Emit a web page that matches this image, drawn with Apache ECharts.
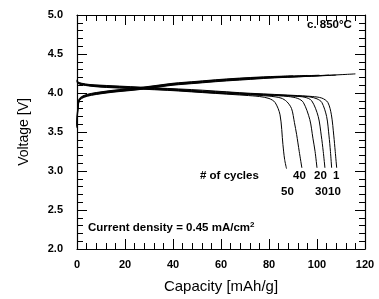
<!DOCTYPE html>
<html>
<head>
<meta charset="utf-8">
<script src="https://cdn.jsdelivr.net/npm/echarts@6/dist/echarts.min.js"></script>
<style>
html,body{margin:0;padding:0;background:#fff;}
#main{width:379px;height:299px;}
</style>
</head>
<body>
<div id="main"></div>
<script>
// charge / discharge curves, [capacity mAh/g, voltage V]
var cycles = ['1', '10', '20', '30', '40', '50'];

var dis1 = [[0,4.17],[0.5,4.14],[2,4.125],[5,4.11],[10,4.1],[20,4.085],[30,4.07],[40,4.055],[50,4.04],[60,4.02],[70,4.0],[80,3.985],[90,3.97],[98,3.955],[102,3.935],[104.5,3.88],[106,3.72],[107,3.45],[107.6,3.25],[108.2,3.04]];
var dis10 = [[0,4.16],[0.5,4.135],[2,4.12],[5,4.105],[10,4.095],[20,4.08],[30,4.065],[40,4.05],[50,4.03],[60,4.015],[70,3.995],[80,3.98],[90,3.965],[97,3.95],[100,3.925],[102,3.88],[104,3.7],[105,3.45],[105.6,3.25],[106.1,3.04]];
var dis20 = [[0,4.16],[0.5,4.13],[2,4.115],[5,4.1],[10,4.09],[20,4.075],[30,4.06],[40,4.045],[50,4.025],[60,4.005],[70,3.99],[80,3.975],[90,3.96],[95,3.945],[97.8,3.9],[100.5,3.7],[101.8,3.45],[102.6,3.25],[103.3,3.04]];
var dis30 = [[0,4.15],[0.5,4.13],[2,4.115],[5,4.095],[10,4.085],[20,4.07],[30,4.055],[40,4.04],[50,4.02],[60,4.0],[70,3.985],[80,3.97],[88,3.955],[92,3.93],[94.3,3.88],[97,3.66],[98.3,3.42],[99.2,3.25],[100,3.04]];
var dis40 = [[0,4.15],[0.5,4.125],[2,4.11],[5,4.095],[10,4.08],[20,4.065],[30,4.05],[40,4.035],[50,4.015],[60,3.995],[70,3.98],[80,3.96],[85,3.935],[87.4,3.89],[89.4,3.8],[90.6,3.62],[91.5,3.47],[92.6,3.25],[93.7,3.04]];
var dis50 = [[0,4.14],[0.5,4.12],[2,4.105],[5,4.09],[10,4.075],[20,4.06],[30,4.045],[40,4.03],[50,4.01],[60,3.99],[70,3.97],[76,3.955],[80,3.93],[82.5,3.88],[84.6,3.72],[85.8,3.34],[86.5,3.15],[87.3,3.03]];

var chg1 = [[0,3.55],[0.3,3.75],[1,3.9],[3,3.945],[6,3.97],[10,3.99],[15,4.01],[20,4.025],[25,4.04],[30,4.06],[35,4.08],[40,4.1],[50,4.125],[60,4.15],[70,4.17],[80,4.19],[90,4.205],[100,4.22],[110,4.235],[116,4.245]];
var chg10 = [[0,3.56],[0.3,3.77],[1,3.91],[3,3.95],[6,3.975],[10,3.995],[15,4.015],[20,4.03],[25,4.045],[30,4.065],[35,4.085],[40,4.105],[50,4.13],[60,4.155],[70,4.175],[80,4.195],[90,4.205],[100,4.218],[108,4.23]];
var chg20 = [[0,3.57],[0.3,3.78],[1,3.91],[3,3.955],[6,3.98],[10,4.0],[15,4.02],[20,4.035],[25,4.05],[30,4.07],[35,4.09],[40,4.11],[50,4.135],[60,4.16],[70,4.18],[80,4.2],[90,4.21],[100,4.222],[105,4.23]];
var chg30 = [[0,3.58],[0.3,3.8],[1,3.92],[3,3.96],[6,3.985],[10,4.005],[15,4.025],[20,4.04],[25,4.055],[30,4.075],[35,4.095],[40,4.115],[50,4.14],[60,4.165],[70,4.185],[80,4.2],[90,4.215],[101,4.228]];
var chg40 = [[0,3.6],[0.3,3.81],[1,3.92],[3,3.965],[6,3.99],[10,4.01],[15,4.03],[20,4.045],[25,4.06],[30,4.08],[35,4.1],[40,4.12],[50,4.145],[60,4.17],[70,4.19],[80,4.205],[90,4.218],[96,4.225]];
var chg50 = [[0,3.6],[0.3,3.82],[1,3.93],[3,3.97],[6,3.995],[10,4.015],[15,4.035],[20,4.05],[25,4.065],[30,4.085],[35,4.105],[40,4.125],[50,4.15],[60,4.175],[70,4.195],[80,4.21],[90,4.22]];

var disData = [dis1, dis10, dis20, dis30, dis40, dis50];
var chgData = [chg1, chg10, chg20, chg30, chg40, chg50];

var xTicks = [0, 20, 40, 60, 80, 100, 120];
var yTicks = [2.0, 2.5, 3.0, 3.5, 4.0, 4.5, 5.0];

var myChart = echarts.init(document.getElementById('main'), null, {renderer: 'canvas'});

var series = [];
for (var i = 0; i < cycles.length; i++) {
    series.push({
        name: 'dis' + cycles[i], type: 'line', data: disData[i],
        showSymbol: false, smooth: 0.3,
        lineStyle: {color: '#000', width: 1}
    });
    series.push({
        name: 'chg' + cycles[i], type: 'line', data: chgData[i],
        showSymbol: false, smooth: 0.3,
        lineStyle: {color: '#000', width: 1}
    });
}

var labelFont = {color: '#000', fontFamily: 'Liberation Sans', fontWeight: 'bold', fontSize: 11};
var annFont = 'bold 11.5px "Liberation Sans"';

function axisBase(extra) {
    var a = {
        type: 'value',
        axisLine: {show: true, onZero: false, lineStyle: {color: '#000', width: 1.2}},
        // ticks come out centred on the axis line, like the "+" marks in the figure
        axisTick: {show: true, inside: true, length: 10, lineStyle: {color: '#000', width: 1}},
        minorTick: {show: true, splitNumber: 5, length: 6, lineStyle: {color: '#000', width: 1}},
        splitLine: {show: false},
        minorSplitLine: {show: false}
    };
    return Object.assign(a, extra);
}

var option = {
    animation: false,
    grid: {left: 77, right: 14, top: 15, bottom: 49},
    xAxis: [
        axisBase({
            min: 0, max: 120, interval: 20, position: 'bottom',
            name: 'Capacity [mAh/g]', nameLocation: 'middle', nameGap: 30,
            nameTextStyle: {color: '#000', fontFamily: 'Liberation Sans', fontSize: 15},
            axisLabel: Object.assign({margin: 10, formatter: function (v) { return xTicks.indexOf(v) >= 0 ? String(v) : ''; }}, labelFont)
        }),
        axisBase({
            min: 0, max: 120, interval: 20, position: 'top',
            axisLabel: {show: false}
        })
    ],
    yAxis: [
        axisBase({
            min: 2, max: 5, interval: 0.5, position: 'left',
            name: 'Voltage [V]', nameLocation: 'middle', nameGap: 46,
            nameTextStyle: {color: '#000', fontFamily: 'Liberation Sans', fontSize: 14},
            axisLabel: Object.assign({margin: 14, formatter: function (v) { return v.toFixed(1); }}, labelFont)
        }),
        axisBase({
            min: 2, max: 5, interval: 0.5, position: 'right',
            axisLabel: {show: false}
        })
    ],
    graphic: [
        {type: 'text', left: 307, top: 19, style: {text: 'c. 850°C', font: annFont, fill: '#000'}},
        {type: 'text', left: 200, top: 170, style: {text: '# of cycles', font: annFont, fill: '#000'}},
        {type: 'text', left: 293, top: 170, style: {text: '40', font: annFont, fill: '#000'}},
        {type: 'text', left: 314, top: 170, style: {text: '20', font: annFont, fill: '#000'}},
        {type: 'text', left: 333, top: 170, style: {text: '1', font: annFont, fill: '#000'}},
        {type: 'text', left: 281, top: 186, style: {text: '50', font: annFont, fill: '#000'}},
        {type: 'text', left: 315, top: 186, style: {text: '30', font: annFont, fill: '#000'}},
        {type: 'text', left: 328, top: 186, style: {text: '10', font: annFont, fill: '#000'}},
        {type: 'text', left: 88, top: 221, style: {rich: {n: {font: annFont, fill: '#000'}, s: {font: 'bold 8px "Liberation Sans"', fill: '#000', verticalAlign: 'top', padding: [0, 0, 6, 0]}}, text: '{n|Current density = 0.45 mA/cm}{s|2}'}}
    ],
    series: series
};

myChart.setOption(option);
</script>
</body>
</html>
